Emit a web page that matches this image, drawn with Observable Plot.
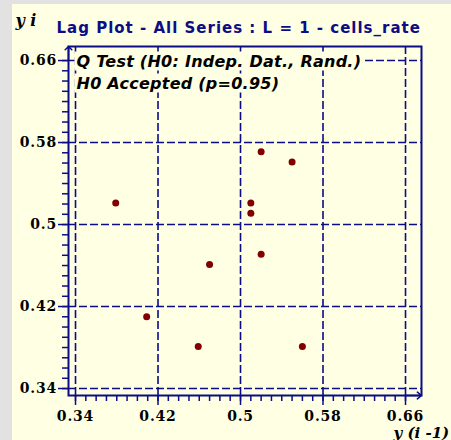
<!DOCTYPE html>
<html>
<head>
<meta charset="utf-8">
<script src="https://cdn.jsdelivr.net/npm/d3@7"></script>
<script src="https://cdn.jsdelivr.net/npm/@observablehq/plot@0.6"></script>
<style>
  html, body { margin: 0; padding: 0; background: #e2e2e2; width: 451px; height: 440px; overflow: hidden; }
  #paper { position: absolute; left: 12px; top: 4px; width: 439px; height: 436px; background: #ffffe3; }
  #chart { position: absolute; left: 0; top: 0; }
</style>
</head>
<body>
<div id="paper"></div>
<div id="chart"></div>
<script>
// ---- data ----
const lagPrev = [0.379, 0.409, 0.459, 0.470, 0.510, 0.510, 0.520, 0.520, 0.550, 0.560]; // y(i-1)
const lagCurr = [0.521, 0.410, 0.381, 0.461, 0.521, 0.511, 0.571, 0.471, 0.561, 0.381]; // y(i)
const majorTicks = [0.34, 0.42, 0.5, 0.58, 0.66];
const tickLabels = ["0.34", "0.42", "0.5", "0.58", "0.66"];
const minorTicks = d3.range(34, 67).map(d => d / 100);
const xDomain = [0.3332, 0.6755];
const yDomain = [0.3332, 0.6737];
const titleText = "Lag Plot - All Series : L = 1 - cells_rate";
const yLabel = "y i";
const xLabel = "y (i -1)";
const noteLine1 = "Q Test (H0: Indep. Dat., Rand.)";
const noteLine2 = "H0 Accepted (p=0.95)";

const points = lagPrev.map((x, i) => ({x, y: lagCurr[i]}));
const navy = "#0c0c86";
const cream = "#ffffe3";
const labelFor = d => tickLabels[majorTicks.indexOf(d)];
const tickFont = {fontFamily: "DejaVu Serif", fontWeight: "bold", fontSize: 14};
const noteFont = {fontFamily: "DejaVu Sans", fontWeight: "bold", fontStyle: "italic", fontSize: 16, fill: "black"};

const chart = Plot.plot({
  width: 451,
  height: 440,
  marginLeft: 68,
  marginRight: 30,
  marginTop: 46,
  marginBottom: 45,
  style: {background: "transparent", overflow: "visible"},
  x: {domain: xDomain},
  y: {domain: yDomain},
  marks: [
    Plot.gridX(majorTicks, {stroke: navy, strokeOpacity: 1, strokeWidth: 1.6, strokeDasharray: "8,3"}),
    Plot.gridY(majorTicks, {stroke: navy, strokeOpacity: 1, strokeWidth: 1.6, strokeDasharray: "8,3"}),
    Plot.frame({stroke: navy, strokeWidth: 2}),
    Plot.dot(points, {x: "x", y: "y", r: 3.5, fill: "#800000", stroke: "none"}),
    Plot.text([noteLine1], {frameAnchor: "top-left", textAnchor: "start", lineAnchor: "bottom",
      dx: 8, dy: 20, ...noteFont, ariaLabel: "note"}),
    Plot.text([noteLine2], {frameAnchor: "top-left", textAnchor: "start", lineAnchor: "bottom",
      dx: 8, dy: 42, ...noteFont, ariaLabel: "note"}),
    // minor ticks
    Plot.axisX(minorTicks, {tickSize: 6, fill: "none", stroke: navy, strokeWidth: 1.5, label: null}),
    Plot.axisY(minorTicks, {tickSize: 6, fill: "none", stroke: navy, strokeWidth: 1.5, label: null}),
    // major ticks with labels
    Plot.axisX(majorTicks, {tickSize: 10, tickPadding: 6, stroke: navy, strokeWidth: 1.5, fill: "black",
      tickFormat: labelFor, label: null, ...tickFont}),
    Plot.axisY(majorTicks, {tickSize: 10, tickPadding: 1.5, stroke: navy, strokeWidth: 1.5, fill: "black",
      tickFormat: labelFor, label: null, ...tickFont}),
    // axis arrows
    Plot.arrow([0], {x1: majorTicks[4], x2: xDomain[1], y1: yDomain[0], y2: yDomain[0],
      stroke: navy, strokeWidth: 1.5, headLength: 14, headAngle: 78}),
    Plot.arrow([0], {x1: xDomain[0], x2: xDomain[0], y1: majorTicks[4], y2: yDomain[1],
      stroke: navy, strokeWidth: 1.5, headLength: 8, headAngle: 90}),
    // title and axis labels
    Plot.text([titleText], {frameAnchor: "top-left", textAnchor: "start", lineAnchor: "bottom",
      dx: -12, dy: -14, fontFamily: "DejaVu Sans", fontWeight: "bold", fontSize: 15, fill: navy}),
    Plot.text([yLabel], {frameAnchor: "top-left", textAnchor: "start", lineAnchor: "bottom",
      dx: -53, dy: -21, fontFamily: "DejaVu Serif", fontWeight: "bold", fontStyle: "italic", fontSize: 16, fill: "black"}),
    Plot.text([xLabel], {frameAnchor: "bottom-right", textAnchor: "start", lineAnchor: "bottom",
      dx: -28, dy: 42, fontFamily: "DejaVu Serif", fontWeight: "bold", fontStyle: "italic", fontSize: 15, fill: "black"})
  ]
});
document.getElementById("chart").appendChild(chart);

// styling tweaks: letter spacing and opaque backgrounds behind the note lines
const svg = d3.select(chart);
svg.selectAll("text").each(function() {
  const t = this.textContent;
  if (t === titleText) this.setAttribute("letter-spacing", "1");
  else if (tickLabels.includes(t)) this.setAttribute("letter-spacing", "0.8");
  else if (t === noteLine1 || t === noteLine2) this.setAttribute("letter-spacing", "0.25");
});
svg.selectAll("text").each(function() {
  const t = this.textContent;
  if (t !== noteLine1 && t !== noteLine2) return;
  const b = this.getBBox();
  const ctm = this.getCTM();
  const g = this.parentNode;
  const r = document.createElementNS("http://www.w3.org/2000/svg", "rect");
  r.setAttribute("x", b.x - 2);
  r.setAttribute("y", b.y);
  r.setAttribute("width", b.width + 4);
  r.setAttribute("height", b.height);
  r.setAttribute("fill", cream);
  if (this.getAttribute("transform")) r.setAttribute("transform", this.getAttribute("transform"));
  g.insertBefore(r, this);
});
</script>
</body>
</html>
